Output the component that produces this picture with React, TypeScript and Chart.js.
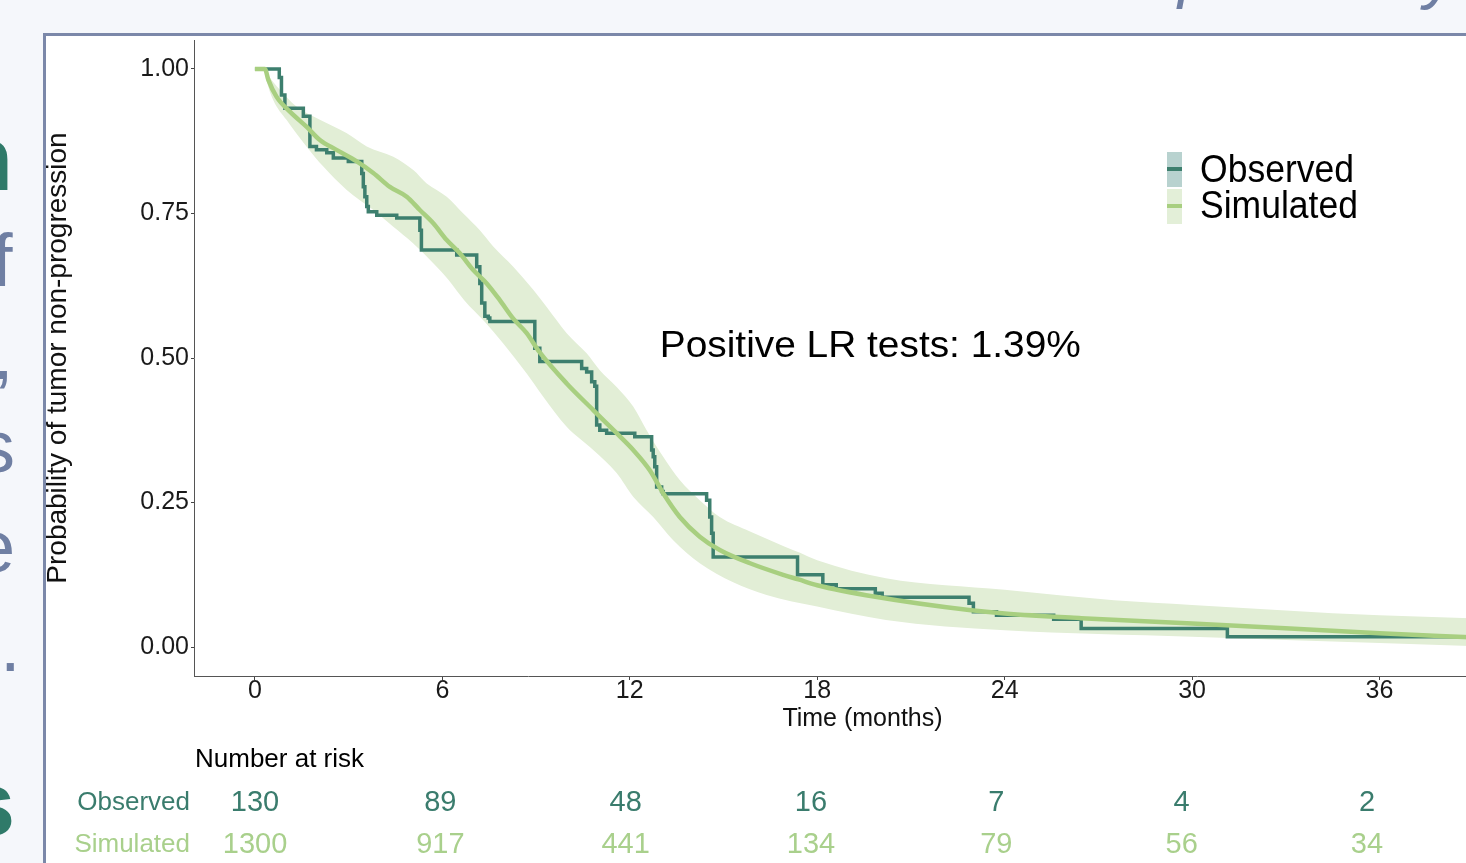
import React, { useEffect, useRef } from 'react';
import { Chart, registerables } from 'chart.js';

Chart.register(...registerables);

// ---------- data ----------
const X_TICKS = [0, 6, 12, 18, 24, 30, 36];
const Y_TICKS = [0, 0.25, 0.5, 0.75, 1];

const SERIES_NAMES = ['Observed', 'Simulated'];
const RISK_TITLE = 'Number at risk';
const RISK_TIMES = [0, 6, 12, 18, 24, 30, 36];
const RISK_OBSERVED = [130, 89, 48, 16, 7, 4, 2];
const RISK_SIMULATED = [1300, 917, 441, 134, 79, 56, 34];

const ANNOTATION = 'Positive LR tests: 1.39%';
const ANNOT_T = 19.7;
const ANNOT_S = 0.52;

// Observed Kaplan-Meier curve (time in months, survival)
const OBS_T = [0, 0.78, 0.85, 0.96, 1.55, 1.76, 1.97, 2.30, 2.51, 2.99,
  3.42, 3.47, 3.52, 3.58, 3.63, 3.90, 4.54, 5.28, 5.33, 6.46,
  7.10, 7.20, 7.26, 7.36, 7.47, 7.52, 8.96, 9.12, 10.46, 10.62,
  10.78, 10.88, 10.94, 11.04, 11.26, 12.16, 12.70, 12.75, 12.80, 12.86,
  13.02, 13.07, 14.46, 14.56, 14.62, 14.67, 17.37, 18.18, 18.61, 19.86,
  20.08, 22.86, 23.0, 23.74, 25.57, 26.45, 31.13, 38.9];
const OBS_S = [1.0, 0.985, 0.955, 0.932, 0.918, 0.866, 0.860, 0.855, 0.846, 0.840,
  0.819, 0.796, 0.779, 0.762, 0.753, 0.747, 0.742, 0.721, 0.687, 0.678,
  0.658, 0.629, 0.595, 0.572, 0.569, 0.563, 0.517, 0.494, 0.482, 0.476,
  0.459, 0.451, 0.384, 0.375, 0.370, 0.364, 0.341, 0.329, 0.312, 0.277,
  0.269, 0.265, 0.254, 0.225, 0.197, 0.156, 0.125, 0.108, 0.101, 0.093,
  0.086, 0.076, 0.061, 0.055, 0.048, 0.032, 0.018, 0.018];

// Simulated median curve
const SIM_T = [0, 0.32, 0.43, 0.69, 1.12, 1.65, 2.08, 2.61, 3.26, 3.79,
  4.32, 4.86, 5.28, 5.71, 6.14, 6.56, 6.99, 7.42, 7.84, 8.27,
  8.70, 9.10, 9.98, 10.83, 11.58, 12.11, 12.64, 13.07, 13.60, 14.24,
  14.88, 15.85, 16.91, 17.40, 18.0, 19.86, 22.86, 24.0, 26.45, 30.0,
  36.0, 38.9];
const SIM_S = [1.0, 1.0, 0.981, 0.952, 0.926, 0.900, 0.877, 0.860, 0.840, 0.820,
  0.796, 0.779, 0.756, 0.733, 0.704, 0.681, 0.652, 0.629, 0.600, 0.568,
  0.543, 0.511, 0.456, 0.410, 0.370, 0.341, 0.306, 0.266, 0.225, 0.191,
  0.168, 0.145, 0.125, 0.117, 0.107, 0.087, 0.064, 0.058, 0.050, 0.041,
  0.024, 0.017];

// Simulated prediction band
const BAND_UP_T = [0.3, 0.37, 0.80, 1.33, 2.08, 2.93, 3.58, 4.43, 5.07, 5.50,
  6.14, 6.67, 7.20, 7.63, 8.27, 8.91, 9.34, 9.98, 10.62, 11.04,
  11.58, 12.11, 12.54, 13.07, 13.60, 14.24, 14.88, 15.85, 16.91, 17.45,
  18.0, 20.2, 24.0, 27.5, 30.0, 36.0, 38.9];
const BAND_UP_S = [1.0, 0.993, 0.964, 0.935, 0.912, 0.889, 0.866, 0.848, 0.825, 0.802,
  0.779, 0.750, 0.721, 0.693, 0.658, 0.618, 0.588, 0.543, 0.508, 0.479,
  0.450, 0.416, 0.375, 0.329, 0.289, 0.254, 0.225, 0.200, 0.175, 0.163,
  0.150, 0.119, 0.099, 0.081, 0.073, 0.055, 0.050];
const BAND_LO_T = [0.3, 0.37, 0.59, 1.01, 1.65, 2.19, 2.93, 3.79, 4.43, 5.07,
  5.71, 6.20, 6.70, 7.35, 7.95, 8.70, 9.23, 9.98, 10.83, 11.58,
  12.11, 12.75, 13.39, 14.24, 15.31, 16.38, 18.0, 20.2, 24.0, 30.0,
  36.0, 38.9];
const BAND_LO_S = [1.0, 0.981, 0.946, 0.912, 0.866, 0.831, 0.791, 0.756, 0.727, 0.698,
  0.664, 0.635, 0.600, 0.563, 0.525, 0.473, 0.433, 0.381, 0.341, 0.301,
  0.260, 0.225, 0.185, 0.145, 0.112, 0.090, 0.070, 0.047, 0.029, 0.018,
  0.007, 0.002];

// ---------- styles ----------
const FONT = "'Liberation Sans', Arial, Helvetica, sans-serif";
const OBS_COLOR = '#3d7f6e';
const SIM_COLOR = '#a8cf80';
const BAND_COLOR = '#e2eed6';
const OBS_KEY_BG = '#b8d2cf';
const SIM_KEY_BG = '#e3efd8';
const RISK_OBS_COLOR = '#3a7c6d';
const RISK_SIM_COLOR = '#a9d08c';
const SLIDE_BLUE = '#6f7fa3';
const SLIDE_TEAL = '#2f7a69';

const toPoints = (t: number[], s: number[]) => t.map((v, i) => ({ x: v, y: s[i] }));

const overlayPlugin = {
  id: 'overlay',
  afterDraw(chart: any) {
    const { ctx, scales } = chart;
    const x = scales.x;
    const y = scales.y;
    const xr = scales.xr;

    // annotation
    ctx.save();
    ctx.font = `37px ${FONT}`;
    ctx.fillStyle = '#000';
    ctx.textAlign = 'center';
    ctx.textBaseline = 'middle';
    ctx.translate(x.getPixelForValue(ANNOT_T), y.getPixelForValue(ANNOT_S));
    ctx.scale(1.05, 1);
    ctx.fillText(ANNOTATION, 0, 0);
    ctx.restore();

    // legend
    const keys = [
      { bg: OBS_KEY_BG, line: OBS_COLOR, top: 152, base: 182 },
      { bg: SIM_KEY_BG, line: SIM_COLOR, top: 189, base: 218 },
    ];
    keys.forEach((k, i) => {
      ctx.save();
      ctx.fillStyle = k.bg;
      ctx.fillRect(1167, k.top, 15, 35);
      ctx.fillStyle = k.line;
      ctx.fillRect(1167, k.top + 15, 15, 4);
      ctx.font = `38px ${FONT}`;
      ctx.fillStyle = '#000';
      ctx.textAlign = 'left';
      ctx.textBaseline = 'alphabetic';
      ctx.translate(1200, k.base);
      ctx.scale(0.935, 1);
      ctx.fillText(SERIES_NAMES[i], 0, 0);
      ctx.restore();
    });

    // risk table
    ctx.save();
    ctx.textBaseline = 'middle';
    ctx.font = `26px ${FONT}`;
    ctx.fillStyle = '#000';
    ctx.textAlign = 'left';
    ctx.fillText(RISK_TITLE, 195, 760);
    const rows = [
      { name: SERIES_NAMES[0], vals: RISK_OBSERVED, color: RISK_OBS_COLOR, yy: 803 },
      { name: SERIES_NAMES[1], vals: RISK_SIMULATED, color: RISK_SIM_COLOR, yy: 845 },
    ];
    rows.forEach((r) => {
      ctx.fillStyle = r.color;
      ctx.font = `26px ${FONT}`;
      ctx.textAlign = 'right';
      ctx.fillText(r.name, 190, r.yy);
      ctx.font = `29px ${FONT}`;
      ctx.textAlign = 'center';
      r.vals.forEach((v, i) => {
        ctx.fillText(String(v), xr.getPixelForValue(RISK_TIMES[i]), r.yy);
      });
    });
    ctx.restore();
  },
};

const frag = (
  text: string,
  left: number,
  top: number,
  size: number,
  color: string,
  weight: number | string = 400,
  italic = false
) => (
  <div
    style={{
      position: 'absolute',
      left,
      top,
      fontSize: size,
      lineHeight: 0,
      color,
      fontWeight: weight as any,
      fontStyle: italic ? 'italic' : 'normal',
      fontFamily: FONT,
      whiteSpace: 'nowrap',
    }}
  >
    {text}
  </div>
);

export default function App() {
  const ref = useRef<HTMLCanvasElement>(null);

  useEffect(() => {
    const canvas = ref.current;
    if (!canvas) return;
    Chart.defaults.font.family = FONT;
    const chart = new Chart(canvas, {
      type: 'line',
      data: {
        datasets: [
          {
            label: SERIES_NAMES[1],
            data: toPoints(SIM_T, SIM_S),
            borderColor: SIM_COLOR,
            borderWidth: 4.5,
            pointRadius: 0,
            cubicInterpolationMode: 'monotone',
            fill: false,
            order: 0,
            xAxisID: 'x',
            yAxisID: 'y',
          },
          {
            label: SERIES_NAMES[0],
            data: toPoints(OBS_T, OBS_S),
            borderColor: OBS_COLOR,
            borderWidth: 3.5,
            pointRadius: 0,
            stepped: 'before',
            fill: false,
            order: 1,
            xAxisID: 'x',
            yAxisID: 'y',
          },
          {
            label: 'band-upper',
            data: toPoints(BAND_UP_T, BAND_UP_S),
            borderColor: 'rgba(0,0,0,0)',
            borderWidth: 0,
            backgroundColor: BAND_COLOR,
            pointRadius: 0,
            cubicInterpolationMode: 'monotone',
            fill: 3,
            order: 2,
            xAxisID: 'x',
            yAxisID: 'y',
          },
          {
            label: 'band-lower',
            data: toPoints(BAND_LO_T, BAND_LO_S),
            borderColor: 'rgba(0,0,0,0)',
            borderWidth: 0,
            pointRadius: 0,
            cubicInterpolationMode: 'monotone',
            fill: false,
            order: 3,
            xAxisID: 'x',
            yAxisID: 'y',
          },
        ] as any,
      },
      options: {
        animation: false,
        responsive: true,
        maintainAspectRatio: false,
        layout: { padding: { left: 0, top: 40, right: 29, bottom: 0 } },
        plugins: { legend: { display: false }, tooltip: { enabled: false } },
        scales: {
          x: {
            type: 'linear',
            position: 'bottom',
            min: -1.95,
            max: 40.85,
            afterBuildTicks: (s: any) => {
              s.ticks = X_TICKS.map((v) => ({ value: v }));
            },
            afterFit: (s: any) => {
              s.height = 187;
            },
            ticks: {
              font: { size: 25, lineHeight: 0.9 },
              color: '#1a1a1a',
              padding: 0,
              maxRotation: 0,
              autoSkip: false,
            },
            grid: { drawOnChartArea: false, drawTicks: true, tickLength: 4, color: '#444' },
            border: { display: true, color: '#555', width: 1 },
            title: {
              display: true,
              text: 'Time (months)',
              color: '#111',
              font: { size: 25, lineHeight: 1.2 },
              padding: { top: 0, bottom: 129 },
            },
          },
          xr: {
            type: 'linear',
            axis: 'x',
            position: 'bottom',
            display: false,
            min: -1.975,
            max: 41.31,
          },
          y: {
            type: 'linear',
            position: 'left',
            min: -0.05,
            max: 1.05,
            afterBuildTicks: (s: any) => {
              s.ticks = Y_TICKS.map((v) => ({ value: v }));
            },
            afterFit: (s: any) => {
              s.width = 194;
            },
            ticks: {
              font: { size: 25 },
              color: '#1a1a1a',
              padding: 2,
              callback: (v: any) => Number(v).toFixed(2),
            },
            grid: { drawOnChartArea: false, drawTicks: true, tickLength: 3, color: '#444' },
            border: { display: true, color: '#555', width: 1 },
            title: {
              display: true,
              text: 'Probability of tumor non-progression',
              color: '#111',
              font: { size: 28, lineHeight: 1.2 },
              padding: { top: 41, bottom: 0 },
            },
          },
        } as any,
      },
      plugins: [overlayPlugin],
    });
    return () => chart.destroy();
  }, []);

  return (
    <div
      style={{
        position: 'fixed',
        left: 0,
        top: 0,
        width: 1466,
        height: 863,
        overflow: 'hidden',
        background: '#f5f7fb',
      }}
    >
      {frag('n', -42, 159, 90, SLIDE_TEAL, 700)}
      {frag('f', -8, 261, 74, SLIDE_BLUE)}
      {frag(',', -7, 354, 74, SLIDE_BLUE)}
      {frag('s', -22, 447, 74, SLIDE_BLUE)}
      {frag('e', -26, 547, 74, SLIDE_BLUE)}
      {frag('.', 0, 646, 74, SLIDE_BLUE)}
      {frag('s', -35, 804, 90, SLIDE_TEAL, 700)}
      {frag('p', 1178, -28, 66, SLIDE_BLUE, 400, true)}
      {frag('y', 1424, -27, 66, SLIDE_BLUE, 400, true)}
      <div
        style={{
          position: 'absolute',
          left: 43,
          top: 33,
          width: 1600,
          height: 1000,
          background: '#ffffff',
          borderLeft: '3px solid #7b88a9',
          borderTop: '3px solid #7b88a9',
        }}
      />
      <div style={{ position: 'absolute', left: 0, top: 0, width: 1560, height: 863 }}>
        <canvas ref={ref} style={{ display: 'block' }} />
      </div>
    </div>
  );
}
